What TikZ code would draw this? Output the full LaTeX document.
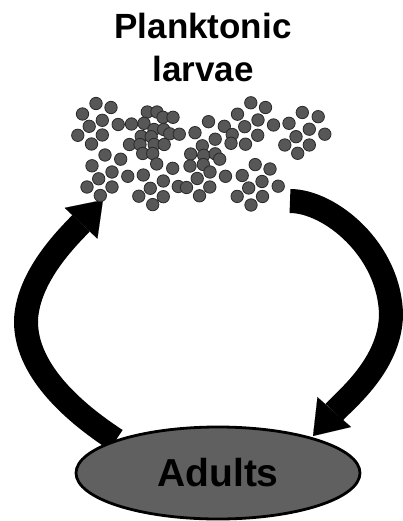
\documentclass[tikz,border=0pt]{standalone}
\usepackage{fontspec}
\setmainfont{Liberation Sans}
\usetikzlibrary{arrows.meta,shapes.geometric}
\definecolor{dotfill}{HTML}{575757}
\definecolor{dotline}{HTML}{2A2A2A}
\definecolor{adultfill}{HTML}{606060}
\begin{document}
\begin{tikzpicture}[x=1pt,y=-1pt,
  band/.style={line width=24pt,black,-{Triangle[length=32pt,width=45pt,line width=0.1pt]}},
  larva/.style={circle,fill=dotfill,draw=dotline,line width=0.8pt,minimum size=12.4pt,inner sep=0pt},
  title/.style={font=\fontsize{35}{43}\selectfont\bfseries,align=center,text=black}]
\useasboundingbox (0,0) rectangle (402,521);
% title
\node[title] (larvae) at (203,47) {Planktonic\\larvae};
% connector endpoints
\coordinate (ls) at (116,440);
\coordinate (lt) at (103,200);
\coordinate (rs) at (290,201);
\coordinate (rt) at (313,436);
% left arrow (adults -> larvae), starts under the ellipse
\draw[band] (ls) .. controls (70,410) and (25,368) .. (26,320) .. controls (28,275) and (70,235) .. (lt);
% adults
\node[ellipse,draw=black,line width=2.8pt,fill=adultfill,minimum width=284pt,minimum height=92pt,inner sep=0pt] (adults) at (218,473) {};
\node[font=\fontsize{39}{45}\selectfont\bfseries] (adultstext) at (adults.center) {\raisebox{-3pt}{Adults}};
% right arrow (larvae -> adults)
\draw[band] (rs) .. controls (330,201) and (390,250) .. (391,315) .. controls (390,365) and (345,400) .. (rt);
% larvae dots
\foreach \x/\y [count=\i] in {
 96/103.5, 111/107.5, 82.5/114, 102.3/120.3, 118.2/124.5, 89.2/126.3, 77.8/135.3, 102.3/135,
 91.5/144, 105/155, 120.7/159.2, 92/165.8, 112/172, 98.7/178.8, 127.8/176.3, 87/187, 112/187,
 100.3/195.5, 131.5/124, 129.5/144.5,
 147.3/112, 157/112, 163/117.3, 173/117.3, 144/123.3, 154/129.5, 163.7/129.5, 169.7/133.8,
 179.3/134.2, 141.2/136.3, 151.2/136.7, 140/144.5, 154.2/144.5, 164.2/144.5, 142.7/153.5,
 152.7/153.5, 156.7/164, 172.7/168.3, 143.3/175, 163.3/181, 150.3/188.3, 178.3/186.5,
 186.5/187.5, 138.8/196.2, 163.3/196.7, 152.7/204.6,
 195/132.7, 190.7/154, 190/166, 202.3/145.8, 203.7/155.3, 215.2/153.8, 219.7/159.2,
 203.3/164.5, 210/172, 197.2/178.5, 209.8/187, 199.5/195.8, 208.5/121.7, 224.3/126.3,
 215.2/139.2, 232.2/134.5, 231/143.3, 237.5/114.2, 250.8/102.8, 244.7/126.7, 257.7/135.3,
 245.5/144.2, 265.5/107.5, 258/120, 255.2/164.6, 242.2/175.5, 225.5/176.3, 248.7/188,
 237.2/196.4, 251/205, 262/181.5, 262.5/196.5, 270/169,
 273.5/125, 289/123.3, 302.3/112.5, 318.2/116.7, 309.3/129.2, 324.8/134.2, 296/136.7,
 284.8/145, 309.3/145, 297.7/153.3, 278.2/186.2}
 { \node[larva] (d\i) at (\x,\y) {}; }
\end{tikzpicture}
\end{document}
